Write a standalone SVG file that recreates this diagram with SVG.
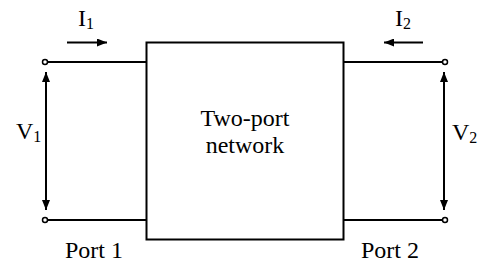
<svg xmlns="http://www.w3.org/2000/svg" width="491" height="265" viewBox="0 0 491 265">
<style>
.w{stroke:#000;stroke-width:2;fill:none}
.t{font-family:'Liberation Serif','Times New Roman','DejaVu Serif',serif;font-size:24px;fill:#000}
.s{font-size:16px}
.term{fill:#fff;stroke:#000;stroke-width:1.5}
</style>
<defs>
<marker id="ah" viewBox="0 0 10 8" refX="10" refY="4" markerWidth="10" markerHeight="8" markerUnits="userSpaceOnUse" orient="auto">
<path d="M0,0 L10,4 L0,8 Z" fill="#000"/>
</marker>
</defs>
<rect width="491" height="265" fill="#fff"/>
<g id="network">
<rect x="146.5" y="42.5" width="197" height="197" class="w"/>
<text class="t" font-family="Liberation Serif, serif" x="245" y="126" text-anchor="middle">Two-port</text>
<text class="t" font-family="Liberation Serif, serif" x="245" y="153" text-anchor="middle">network</text>
</g>
<g id="port1">
<circle class="term" cx="45" cy="62" r="2.5"/>
<circle class="term" cx="45" cy="220" r="2.5"/>
<text class="t" x="65" y="258">Port 1</text>
<text class="t" x="16" y="139">V<tspan class="s" dy="3">1</tspan></text>
<text class="t" x="78" y="26">I<tspan class="s" dy="3">1</tspan></text>
</g>
<g id="port2">
<circle class="term" cx="445" cy="62" r="2.5"/>
<circle class="term" cx="445" cy="220" r="2.5"/>
<text class="t" x="361" y="258">Port 2</text>
<text class="t" x="452" y="140">V<tspan class="s" dy="3">2</tspan></text>
<text class="t" x="395" y="26">I<tspan class="s" dy="3">2</tspan></text>
</g>
<g id="connectors">
<line class="w" x1="47.5" y1="62" x2="146.5" y2="62"/>
<line class="w" x1="47.5" y1="220" x2="146.5" y2="220"/>
<line class="w" x1="343.5" y1="62" x2="442.5" y2="62"/>
<line class="w" x1="343.5" y1="220" x2="442.5" y2="220"/>
<line class="w" x1="46" y1="140" x2="46" y2="72" marker-end="url(#ah)"/>
<line class="w" x1="46" y1="140" x2="46" y2="210" marker-end="url(#ah)"/>
<line class="w" x1="444" y1="140" x2="444" y2="72" marker-end="url(#ah)"/>
<line class="w" x1="444" y1="140" x2="444" y2="210" marker-end="url(#ah)"/>
<line class="w" x1="67" y1="42.5" x2="107" y2="42.5" marker-end="url(#ah)"/>
<line class="w" x1="423" y1="42.5" x2="384" y2="42.5" marker-end="url(#ah)"/>
</g>
</svg>
